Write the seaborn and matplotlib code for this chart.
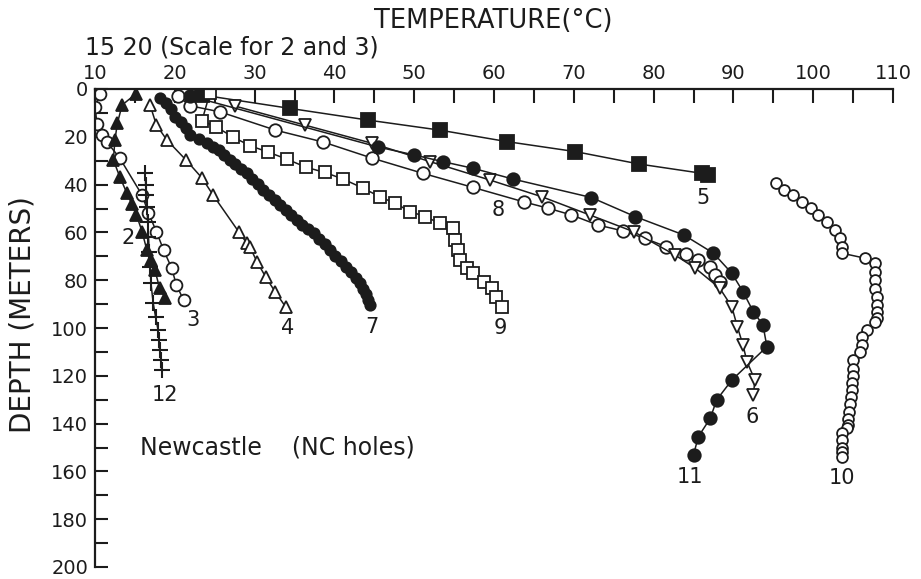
import matplotlib
matplotlib.use("Agg")
import matplotlib.pyplot as plt
import seaborn as sns
import pandas as pd
from matplotlib.ticker import MultipleLocator

sns.set_theme(style="white")
plt.rcParams['font.family'] = ['DejaVu Sans']

# ---- data (temperature degC, depth m) ----
t2 = [15.1, 13.4, 12.8, 12.5, 12.3, 13.1, 14.0, 14.6, 15.2, 15.9, 16.5, 17.0, 17.5, 18.1, 18.8]
d2 = [2.1, 6.7, 14.4, 21.3, 29.7, 36.7, 43.6, 48.0, 52.7, 59.7, 67.4, 71.5, 75.7, 83.3, 87.4]

t3 = [10.6, 10.0, 10.25, 10.9, 11.5, 13.1, 15.9, 16.7, 17.7, 18.6, 19.6, 20.2, 21.1]
d3 = [2.1, 7.5, 14.6, 19.2, 22.2, 28.9, 44.4, 51.9, 59.7, 67.4, 74.9, 82.0, 88.3]

t12 = [16.27, 16.35, 16.4, 16.5, 16.6, 16.7, 16.8, 16.9, 17.0, 17.3, 17.6, 17.9, 18.0, 18.1, 18.25, 18.35]
d12 = [35.3, 40.0, 44.5, 49.2, 55.5, 61.8, 68.0, 74.4, 81.0, 89.7, 95.5, 100.8, 105.0, 109.2, 113.5, 117.6]

t4 = [16.9, 17.7, 19.0, 21.4, 23.4, 24.8, 28.0, 29.0, 29.4, 30.3, 31.4, 32.6, 33.9]
d4 = [6.7, 15.1, 21.3, 29.7, 37.2, 44.4, 59.7, 64.4, 66.0, 72.3, 78.7, 85.0, 91.2]

t7 = [18.1, 18.9, 19.5, 20.0, 20.8, 21.4, 21.9, 23.0, 24.0, 24.8, 25.5, 26.2, 26.9, 27.6,
      28.3, 29.0, 29.7, 30.4, 31.1, 31.8, 32.5, 33.2, 33.9, 34.6, 35.3, 36.0, 36.7, 37.4,
      38.1, 38.8, 39.4, 40.1, 40.8, 41.5, 42.1, 42.7, 43.2, 43.6, 44.0, 44.25, 44.5]
d7 = [3.8, 6.0, 8.5, 11.7, 14.0, 16.5, 19.2, 21.0, 22.8, 24.1, 25.5, 27.5, 29.7, 31.5,
      33.4, 35.3, 37.5, 39.8, 42.3, 44.2, 46.3, 48.5, 50.6, 52.7, 54.8, 56.7, 58.5, 60.4,
      62.7, 65.0, 67.4, 69.8, 72.1, 74.4, 76.7, 79.0, 81.3, 83.6, 85.9, 88.3, 90.4]

t9 = [24.4, 23.4, 25.2, 27.3, 29.4, 31.7, 34.0, 36.5, 38.8, 41.1, 43.6, 45.7, 47.6, 49.5,
      51.4, 53.2, 54.9, 55.1, 55.5, 55.7, 56.6, 57.4, 58.7, 59.7, 60.3, 61.0]
d9 = [1.7, 13.3, 15.9, 20.1, 23.7, 26.4, 29.3, 32.8, 34.9, 37.7, 41.5, 45.1, 47.8, 51.3,
      53.4, 56.2, 58.3, 63.2, 67.4, 71.5, 75.0, 77.1, 80.6, 83.4, 86.9, 91.1]

t5 = [23.4, 34.4, 44.2, 53.2, 61.6, 70.2, 78.2, 86.1, 86.8]
d5 = [2.5, 8.1, 13.0, 17.2, 22.0, 26.2, 31.4, 35.3, 36.0]

t8 = [20.4, 21.9, 25.7, 32.6, 38.6, 44.7, 51.1, 57.4, 63.7, 66.8, 69.7, 73.0, 76.2, 78.9,
      81.6, 84.1, 85.6, 87.1, 87.7, 88.3]
d8 = [2.9, 7.0, 9.6, 17.2, 22.2, 28.9, 35.3, 41.2, 47.2, 49.9, 52.7, 56.9, 59.4, 62.5,
      66.0, 69.0, 71.5, 74.5, 77.8, 80.8]

t6 = [27.5, 36.3, 44.7, 52.0, 59.5, 66.0, 72.0, 77.5, 82.7, 85.2, 88.3, 89.8, 90.5, 91.2,
      91.7, 92.7, 92.5]
d6 = [7.1, 15.1, 22.7, 30.4, 38.1, 45.1, 52.7, 59.7, 69.5, 74.9, 83.4, 91.1, 99.5, 107.1,
      114.1, 121.8, 128.0]

t11 = [21.9, 45.5, 50.0, 53.6, 57.4, 62.4, 72.2, 77.7, 83.8, 87.5, 89.8, 91.2, 92.5, 93.7,
       94.2, 89.8, 87.9, 87.1, 85.6, 85.0]
d11 = [2.9, 24.3, 27.6, 30.4, 33.2, 37.7, 45.4, 53.4, 61.1, 68.7, 77.1, 84.8, 93.2, 98.7,
       107.8, 121.8, 130.1, 137.8, 145.5, 153.1]

t10 = [95.4, 96.3, 97.5, 98.6, 99.7, 100.6, 101.7, 102.7, 103.4, 103.6, 103.6, 106.5, 107.7,
       107.7, 107.7, 107.7, 108.0, 108.0, 108.0, 108.0, 107.7, 106.7, 106.1, 106.1, 105.9,
       105.0, 105.0, 105.0, 104.8, 104.8, 104.7, 104.6, 104.5, 104.4, 104.3, 104.2, 103.6,
       103.6, 103.6, 103.6, 103.6]
d10 = [39.5, 42.3, 44.4, 47.2, 49.9, 52.7, 55.5, 59.0, 62.5, 66.0, 68.7, 70.8, 72.9,
       76.5, 80.0, 83.5, 87.0, 90.5, 93.2, 96.0, 97.4, 100.8, 103.6, 107.1, 109.9,
       113.4, 117.0, 120.0, 123.0, 126.0, 129.0, 132.0, 135.0, 138.0, 140.5, 142.0, 144.0,
       147.0, 150.0, 152.0, 153.8]

# ---- figure ----
W, H = 921, 579
fig = plt.figure(figsize=(W / 100, H / 100), dpi=100)
fig.patch.set_facecolor('white')
ax = fig.add_axes([95 / W, 1 - 567 / H, (893 - 95) / W, (567 - 89) / H])
ax.set_facecolor('white')

ink = '#1c1c1c'
lw = 1.1


def draw(t, d, marker, ms, filled, mew=1.3):
    df = pd.DataFrame({'T': t, 'D': d})
    sns.lineplot(data=df, x='T', y='D', sort=False, estimator=None, ax=ax,
                 color=ink, lw=lw, marker=marker, markersize=ms,
                 markerfacecolor=ink if filled else 'white',
                 markeredgecolor=ink, markeredgewidth=mew)


draw(t10, d10, 'o', 7.8, False)
draw(t5, d5, 's', 9.5, True)
draw(t9, d9, 's', 9, False)
draw(t8, d8, 'o', 9, False)
draw(t6, d6, 'v', 9, False)
draw(t11, d11, 'o', 9, True)
draw(t7, d7, 'o', 7.5, True)
draw(t4, d4, '^', 9, False)
draw(t3, d3, 'o', 8.5, False)
draw(t2, d2, '^', 9, True)
draw(t12, d12, '+', 11, False, mew=1.5)

ax.set_xlim(10, 110)
ax.set_ylim(200, 0)
ax.xaxis.set_label_position('top')
ax.xaxis.tick_top()
ax.set_xlabel('')
ax.set_ylabel('')
ax.xaxis.set_major_locator(MultipleLocator(10))
ax.xaxis.set_minor_locator(MultipleLocator(5))
ax.yaxis.set_major_locator(MultipleLocator(20))
ax.yaxis.set_minor_locator(MultipleLocator(10))
ax.tick_params(axis='x', which='both', direction='in', length=10, width=1.5,
               colors=ink, labelsize=14, pad=4, top=True, bottom=False)
ax.tick_params(axis='y', which='both', direction='in', length=9, width=1.5,
               colors=ink, labelsize=14, pad=5, left=True)
for s in ['right', 'bottom']:
    ax.spines[s].set_visible(False)
for s in ['top', 'left']:
    ax.spines[s].set_visible(True)
    ax.spines[s].set_color(ink)
    ax.spines[s].set_linewidth(1.6)
ax.grid(False)

# curve labels
labels = {'2': (14.1, 62.3), '3': (22.3, 96.7), '4': (34.1, 100), '12': (18.8, 128),
          '7': (44.7, 99.6), '9': (60.8, 100), '8': (60.5, 50.6), '5': (86.2, 45.6),
          '6': (92.3, 137.2), '11': (84.6, 162.3), '10': (103.6, 162.8)}
for k, (x, y) in labels.items():
    ax.text(x, y, k, fontsize=15, color=ink, ha='center', va='center')

ax.text(15.6, 149.8, 'Newcastle    (NC holes)', fontsize=17, color=ink,
        ha='left', va='center')

fig.text(493 / W, 1 - 21 / H, 'TEMPERATURE(°C)', fontsize=18.5, color=ink,
         ha='center', va='center')
fig.text(85 / W, 1 - 47 / H, '15 20 (Scale for 2 and 3)', fontsize=17, color=ink,
         ha='left', va='center')
fig.text(22 / W, 1 - 315 / H, 'DEPTH (METERS)', fontsize=20, color=ink,
         ha='center', va='center', rotation=90)

fig.savefig('out.png', dpi=100, facecolor='white')
